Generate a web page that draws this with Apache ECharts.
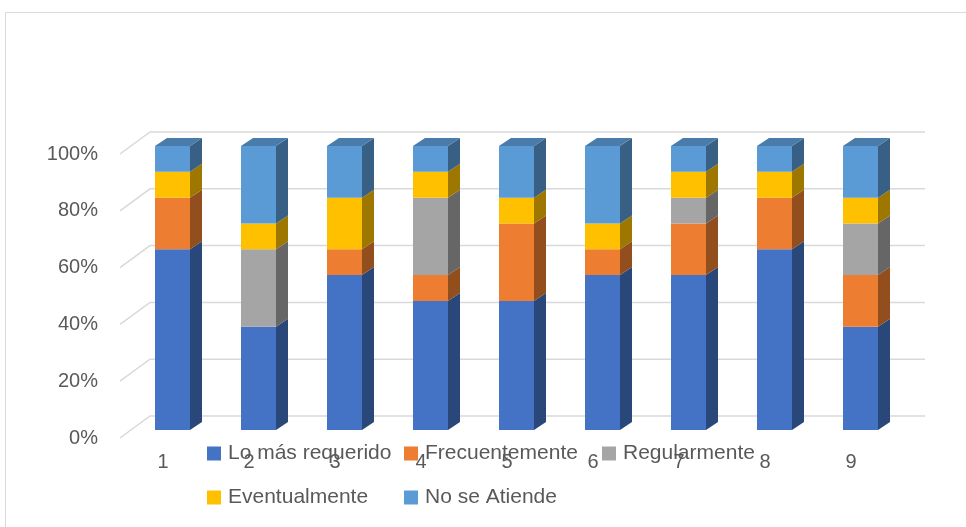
<!DOCTYPE html>
<html>
<head>
<meta charset="utf-8">
<script src="https://cdn.jsdelivr.net/npm/echarts@6/dist/echarts.min.js"></script>
<style>
  html, body { margin: 0; padding: 0; background: #fff; }
  #chart { width: 966px; height: 527px; }
</style>
</head>
<body>
<div id="chart"></div>
<script>
// Categories and answer counts per category (each column sums to 11 responses)
const categories = ['1', '2', '3', '4', '5', '6', '7', '8', '9'];
const loMasRequerido = [7, 4, 6, 5, 5, 6, 6, 7, 4];
const frecuentemente = [2, 0, 1, 1, 3, 1, 2, 2, 2];
const regularmente   = [0, 3, 0, 3, 0, 0, 1, 0, 2];
const eventualmente  = [1, 1, 2, 1, 1, 1, 1, 1, 1];
const noSeAtiende    = [1, 3, 2, 1, 2, 3, 1, 1, 2];
const yTicks = [0, 20, 40, 60, 80, 100];

const seriesNames = ['Lo más requerido', 'Frecuentemente', 'Regularmente', 'Eventualmente', 'No se Atiende'];
const seriesValues = [loMasRequerido, frecuentemente, regularmente, eventualmente, noSeAtiende];
const colors = ['#4472C4', '#ED7D31', '#A5A5A5', '#FFC000', '#5B9BD5'];

const FONT = '"Liberation Sans", Arial, sans-serif';
const TEXT = '#595959';

function shade(hex, k) {
  const n = parseInt(hex.slice(1), 16);
  const r = Math.round(((n >> 16) & 255) * k);
  const g = Math.round(((n >> 8) & 255) * k);
  const b = Math.round((n & 255) * k);
  return 'rgb(' + r + ',' + g + ',' + b + ')';
}

// 100% stacking: turn counts into [category, base%, top%, isTopSegment] rows
const totals = categories.map((_, i) => seriesValues.reduce((s, arr) => s + arr[i], 0));
const topIndex = categories.map((_, i) => {
  let t = -1;
  seriesValues.forEach((arr, s) => { if (arr[i] > 0) t = s; });
  return t;
});
const stacked = seriesValues.map((arr, s) => arr.map((v, i) => {
  let base = 0;
  for (let k = 0; k < s; k++) base += seriesValues[k][i];
  return [i, base / totals[i] * 100, (base + v) / totals[i] * 100, topIndex[i] === s ? 1 : 0];
}));

// Depth of the floor/back wall and of the columns
const WALL_DX = 30, WALL_DY = 22;
const BAR_OFF_X = -8, BAR_W = 35, BAR_LIFT = 8, BAR_DX = 12, BAR_DY = 8;

function barRenderer(color) {
  const side = shade(color, 0.62);
  const top = shade(color, 0.8);
  return function (params, api) {
    const b = api.value(1), t = api.value(2);
    if (t - b <= 0) return;
    const p0 = api.coord([api.value(0), b]);
    const p1 = api.coord([api.value(0), t]);
    const L = p0[0] + BAR_OFF_X, R = L + BAR_W;
    const yb = p0[1] - BAR_LIFT, yt = p1[1] - BAR_LIFT;
    const children = [
      { type: 'rect', shape: { x: L, y: yt, width: R - L, height: yb - yt }, style: { fill: color } },
      { type: 'polygon', shape: { points: [[R, yb], [R + BAR_DX, yb - BAR_DY], [R + BAR_DX, yt - BAR_DY], [R, yt]] }, style: { fill: side } }
    ];
    if (api.value(3) === 1) {
      children.push({ type: 'polygon', shape: { points: [[L, yt], [L + BAR_DX, yt - BAR_DY], [R + BAR_DX, yt - BAR_DY], [R, yt]] }, style: { fill: top } });
    }
    return { type: 'group', children: children };
  };
}

const barSeries = seriesNames.map((name, s) => ({
  name: name,
  type: 'custom',
  coordinateSystem: 'cartesian2d',
  itemStyle: { color: colors[s] },
  encode: { x: 0, y: [1, 2] },
  data: stacked[s],
  renderItem: barRenderer(colors[s]),
  z: 3
}));

// Gridlines running along the floor edge and across the back wall
const gridSeries = {
  type: 'custom',
  coordinateSystem: 'cartesian2d',
  silent: true,
  encode: { x: 0, y: 1 },
  data: yTicks.map(v => [0, v]),
  renderItem: function (params, api) {
    const cs = params.coordSys;
    const y = api.coord([0, api.value(1)])[1];
    return {
      type: 'polyline',
      shape: { points: [[cs.x, y], [cs.x + WALL_DX, y - WALL_DY], [cs.x + cs.width + WALL_DX + 1, y - WALL_DY]] },
      style: { stroke: '#d9d9d9', lineWidth: 1.5, fill: null }
    };
  },
  z: 1
};

const legendPos = [
  { left: 207, top: 443 },
  { left: 404, top: 443 },
  { left: 602, top: 443 },
  { left: 207, top: 487 },
  { left: 404, top: 487 }
];

const option = {
  backgroundColor: '#ffffff',
  animation: false,
  graphic: [{
    type: 'rect',
    shape: { x: 5.5, y: 12.5, width: 1000, height: 600 },
    style: { fill: 'none', stroke: '#d9d9d9', lineWidth: 1 },
    silent: true, z: 0
  }],
  grid: { left: 120, top: 154, width: 774, height: 284, containLabel: false },
  legend: seriesNames.map((name, s) => ({
    data: [name],
    left: legendPos[s].left,
    top: legendPos[s].top,
    icon: 'rect',
    itemWidth: 14,
    itemHeight: 14,
    padding: 0,
    textStyle: { color: TEXT, fontSize: 21, fontFamily: FONT, padding: [0, 0, 0, 2] }
  })),
  xAxis: {
    type: 'category',
    data: categories,
    axisLine: { show: false },
    axisTick: { show: false },
    splitLine: { show: false },
    axisLabel: { color: TEXT, fontSize: 20, fontFamily: FONT, margin: 14 }
  },
  yAxis: {
    type: 'value',
    min: 0,
    max: 100,
    interval: 20,
    axisLine: { show: false },
    axisTick: { show: false },
    splitLine: { show: false },
    axisLabel: { color: TEXT, fontSize: 20, fontFamily: FONT, margin: 22, formatter: '{value}%' }
  },
  series: [gridSeries].concat(barSeries)
};

const chart = echarts.init(document.getElementById('chart'), null, { renderer: 'canvas' });
chart.setOption(option);
</script>
</body>
</html>
